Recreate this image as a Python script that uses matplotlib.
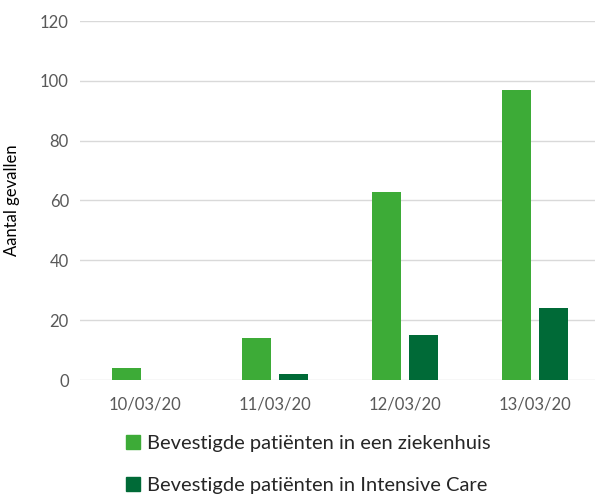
import numpy as np
import matplotlib.pyplot as plt
from matplotlib.patches import Patch

plt.rcParams['font.family'] = ['Lato', 'DejaVu Sans']

# data
dates = ['10/03/20', '11/03/20', '12/03/20', '13/03/20']
ziekenhuis = [4, 14, 63, 97]
intensive_care = [0, 2, 15, 24]
series_names = ['Bevestigde patiënten in een ziekenhuis',
                'Bevestigde patiënten in Intensive Care']

light = '#3dab37'
dark = '#006a37'

fig = plt.figure(figsize=(5.95, 4.94), dpi=100)
ax = fig.add_axes([80/595, 1-380/494, 520/595, 359/494])

x = np.arange(len(dates))
w = 0.23
off = 0.142
ax.bar(x - off, ziekenhuis, w, color=light, zorder=3)
ax.bar(x + off, intensive_care, w, color=dark, zorder=3)

ax.set_xlim(-0.5, 3.5)
ax.set_ylim(0, 120)
ax.set_yticks(range(0, 121, 20))
ax.set_xticks(x)
ax.set_xticklabels(dates)
ax.grid(axis='y', color='#d9d9d9', linewidth=1, zorder=0)
for s in ax.spines.values():
  s.set_visible(False)
ax.tick_params(length=0, labelsize=12, colors='#595959', pad=8)
ax.tick_params(axis='x', pad=12)
ax.set_ylabel('Aantal gevallen', fontsize=12, color='#000000')
ax.yaxis.set_label_coords(-0.115, 0.5)

handles = [Patch(color=light), Patch(color=dark)]
fig.legend(handles, series_names, loc='lower left', bbox_to_anchor=(108/595, -0.036),
           frameon=False, fontsize=14.5, handlelength=0.7, handleheight=0.7,
           handletextpad=0.35, labelspacing=1.2, labelcolor='#262626')

fig.savefig('out.png', dpi=100)
